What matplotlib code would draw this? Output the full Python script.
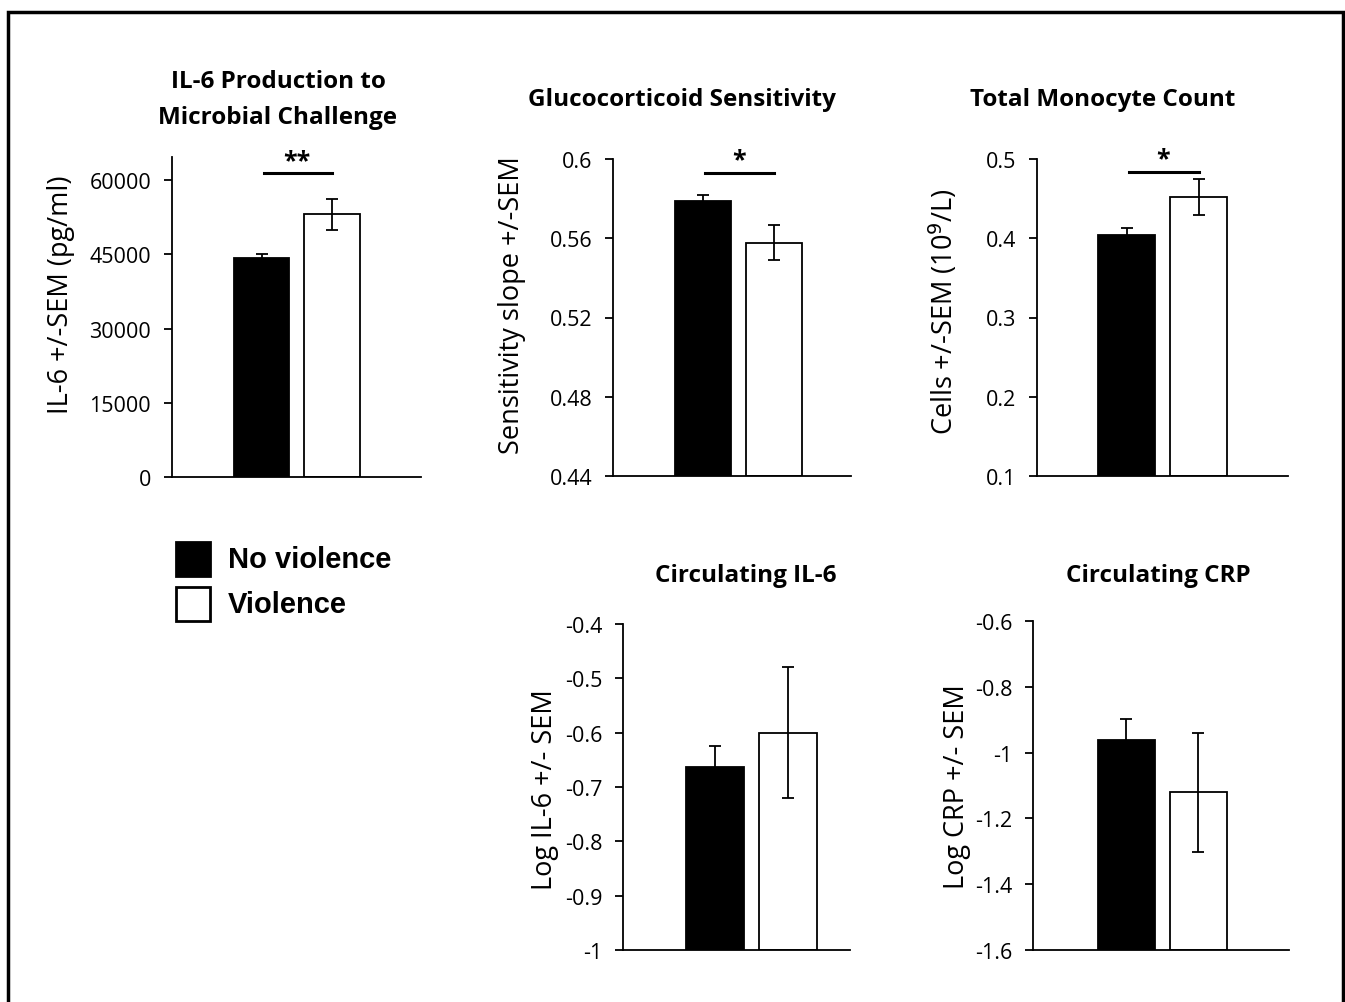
import matplotlib
matplotlib.use("Agg")
import matplotlib.pyplot as plt
from matplotlib.patches import Rectangle

# ---- data ----
groups = ["No violence", "Violence"]

il6_stim_mean = [44200, 53100]
il6_stim_sem = [800, 3200]

gc_sens_mean = [0.5787, 0.5578]
gc_sens_sem = [0.003, 0.0088]

mono_mean = [0.4042, 0.4521]
mono_sem = [0.009, 0.0225]

circ_il6_mean = [-0.663, -0.600]
circ_il6_sem = [0.038, 0.120]

circ_crp_mean = [-0.963, -1.121]
circ_crp_sem = [0.064, 0.182]

W, H = 1345, 1003
FONT = "Open Sans"
LEGEND_FONT = "Liberation Sans"

fig = plt.figure(figsize=(W / 100, H / 100), dpi=100)


def px_axes(left, top, right, bottom):
    return fig.add_axes([left / W, 1 - bottom / H, (right - left) / W, (bottom - top) / H])


def panel(box, means, sems, ylim, yticks, ticklabels, xlim, title, title_xy,
          ylabel, ylabel_xy, sig=None):
    ax = px_axes(*box)
    x = [0, 1]
    base = ylim[0]
    heights = [m - base for m in means]
    ax.bar(x, heights, bottom=base, width=0.79, color=["black", "white"],
           edgecolor="black", linewidth=1.3, zorder=2)
    ax.errorbar(x, means, yerr=sems, fmt="none", ecolor="black",
                elinewidth=1.3, capsize=4.5, capthick=1.3, zorder=3)
    ax.set_xlim(*xlim)
    ax.set_ylim(*ylim)
    ax.set_yticks(yticks)
    ax.set_yticklabels(ticklabels, fontsize=15.5, family=FONT)
    ax.set_xticks([])
    for s in ["top", "right"]:
        ax.spines[s].set_visible(False)
    for s in ["left", "bottom"]:
        ax.spines[s].set_linewidth(1.3)
    ax.tick_params(axis="y", direction="out", length=6, width=1.3, pad=9)
    ax.set_facecolor("none")
    if sig is not None:
        y, stars = sig
        ax.plot([0.03, 1.0], [y, y], color="black", lw=2.2, clip_on=False)
        ax.text(0.5, y, stars, ha="center", va="bottom", fontsize=18,
                fontweight="bold", family=FONT, clip_on=False)
    fig.text(title_xy[0] / W, 1 - title_xy[1] / H, title, ha="center", va="center",
             fontsize=17.5, fontweight="bold", family=FONT, linespacing=1.7)
    fig.text(ylabel_xy[0] / W, 1 - ylabel_xy[1] / H, ylabel, ha="center", va="center",
             rotation=90, fontsize=19.5, family=FONT)
    return ax


panel((172, 158, 421, 478), il6_stim_mean, il6_stim_sem, (0, 64700),
      [0, 15000, 30000, 45000, 60000], ["0", "15000", "30000", "45000", "60000"],
      (-1.27, 2.26), "IL-6 Production to\nMicrobial Challenge", (278, 100),
      "IL-6 +/-SEM (pg/ml)", (61, 295), sig=(61450, "**"))

panel((613, 160, 851, 477), gc_sens_mean, gc_sens_sem, (0.44, 0.6),
      [0.44, 0.48, 0.52, 0.56, 0.6], ["0.44", "0.48", "0.52", "0.56", "0.6"],
      (-1.27, 2.08), "Glucocorticoid Sensitivity", (682, 100),
      "Sensitivity slope +/-SEM", (512, 305), sig=(0.5931, "*"))

panel((1037, 160, 1288, 477), mono_mean, mono_sem, (0.1, 0.5),
      [0.1, 0.2, 0.3, 0.4, 0.5], ["0.1", "0.2", "0.3", "0.4", "0.5"],
      (-1.25, 2.24), "Total Monocyte Count", (1103, 100),
      r"Cells +/-SEM (10$^{9}$/L)", (944, 312), sig=(0.484, "*"))

panel((623, 625, 850, 951), circ_il6_mean, circ_il6_sem, (-1.0, -0.4),
      [-1.0, -0.9, -0.8, -0.7, -0.6, -0.5, -0.4],
      ["-1", "-0.9", "-0.8", "-0.7", "-0.6", "-0.5", "-0.4"],
      (-1.26, 1.85), "Circulating IL-6", (746, 576),
      "Log IL-6 +/- SEM", (545, 790))

panel((1033, 622, 1289, 951), circ_crp_mean, circ_crp_sem, (-1.6, -0.6),
      [-1.6, -1.4, -1.2, -1.0, -0.8, -0.6],
      ["-1.6", "-1.4", "-1.2", "-1", "-0.8", "-0.6"],
      (-1.29, 2.26), "Circulating CRP", (1158, 576),
      "Log CRP +/- SEM", (957, 787))

# legend drawn as boxes + text
for i, (name, fc) in enumerate(zip(groups, ["black", "white"])):
    top = 543 + i * 45
    fig.patches.append(Rectangle((176 / W, 1 - (top + 34) / H), 34 / W, 34 / H,
                                 transform=fig.transFigure, facecolor=fc,
                                 edgecolor="black", lw=2))
    fig.text(228 / W, 1 - (top + 17) / H, name, ha="left", va="center",
             fontsize=21, fontweight="bold", family=LEGEND_FONT)

# outer frame
fig.patches.append(Rectangle((8 / W, -0.02), (1343 - 8) / W, 1 - 13 / H + 0.02,
                             transform=fig.transFigure, facecolor="none",
                             edgecolor="black", lw=2.5))

fig.savefig("out.png", dpi=100)
